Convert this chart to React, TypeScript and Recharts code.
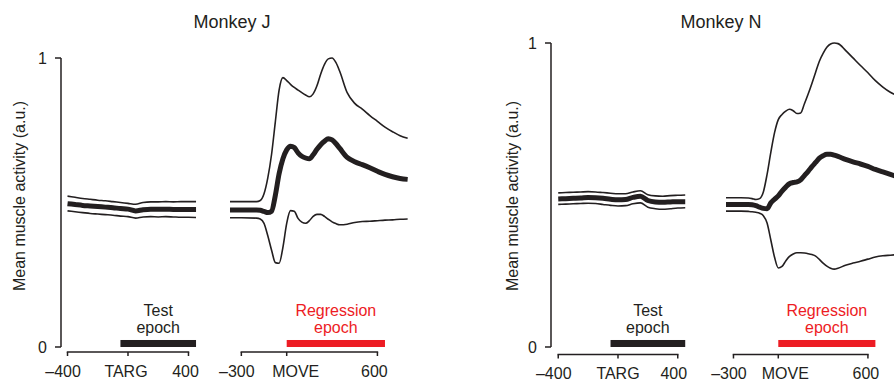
import { LineChart, Line, XAxis, YAxis, ReferenceLine } from 'recharts';

const INK = '#231f20';
const RED = '#ed1c24';
const FONT = '"Liberation Sans", Arial, Helvetica, sans-serif';

// Monkey J, aligned on target onset
const jTargTime = [-400, -350, -300, -250, -200, -150, -100, -50, 0, 50, 100, 150, 200, 250, 300, 350, 400, 450];
const jTargUpper = [0.522, 0.518, 0.514, 0.511, 0.508, 0.506, 0.503, 0.5, 0.497, 0.494, 0.5, 0.502, 0.502, 0.503, 0.502, 0.503, 0.503, 0.503];
const jTargMean = [0.496, 0.493, 0.49, 0.488, 0.486, 0.484, 0.482, 0.479, 0.477, 0.471, 0.475, 0.477, 0.477, 0.477, 0.476, 0.476, 0.476, 0.476];
const jTargLower = [0.471, 0.468, 0.465, 0.462, 0.46, 0.458, 0.456, 0.453, 0.451, 0.446, 0.45, 0.451, 0.45, 0.451, 0.45, 0.449, 0.449, 0.448];

// Monkey J, aligned on movement onset
const jMoveTime = [-375, -300, -200, -175, -150, -125, -100, -75, -50, -25, 0, 25, 50, 75, 100, 125, 150, 175, 200, 225, 250, 275, 300, 325, 350, 400, 450, 500, 550, 600, 650, 700, 750, 800];
const jMoveUpper = [0.503, 0.503, 0.503, 0.507, 0.53, 0.585, 0.667, 0.78, 0.89, 0.932, 0.922, 0.909, 0.898, 0.889, 0.88, 0.872, 0.866, 0.876, 0.904, 0.945, 0.978, 0.997, 1.0, 0.985, 0.955, 0.88, 0.843, 0.823, 0.801, 0.781, 0.761, 0.745, 0.731, 0.722];
const jMoveMean = [0.474, 0.474, 0.474, 0.473, 0.469, 0.465, 0.47, 0.525, 0.6, 0.651, 0.682, 0.695, 0.69, 0.672, 0.66, 0.654, 0.651, 0.665, 0.684, 0.7, 0.712, 0.721, 0.717, 0.704, 0.688, 0.656, 0.641, 0.631, 0.62, 0.608, 0.597, 0.589, 0.583, 0.58];
const jMoveLower = [0.447, 0.447, 0.446, 0.443, 0.428, 0.385, 0.335, 0.292, 0.29, 0.345, 0.428, 0.472, 0.47, 0.445, 0.432, 0.428, 0.437, 0.452, 0.459, 0.459, 0.452, 0.442, 0.433, 0.427, 0.423, 0.425, 0.431, 0.434, 0.435, 0.437, 0.439, 0.44, 0.442, 0.443];

// Monkey N, aligned on target onset
const nTargTime = [-400, -350, -300, -250, -200, -150, -100, -50, 0, 50, 100, 150, 200, 250, 300, 350, 400, 450];
const nTargUpper = [0.507, 0.508, 0.509, 0.51, 0.511, 0.51, 0.508, 0.506, 0.504, 0.504, 0.51, 0.514, 0.501, 0.497, 0.496, 0.498, 0.499, 0.5];
const nTargMean = [0.487, 0.488, 0.489, 0.49, 0.492, 0.491, 0.489, 0.486, 0.484, 0.485, 0.492, 0.496, 0.482, 0.477, 0.476, 0.477, 0.478, 0.478];
const nTargLower = [0.469, 0.47, 0.471, 0.472, 0.473, 0.472, 0.469, 0.466, 0.464, 0.465, 0.471, 0.474, 0.46, 0.455, 0.453, 0.455, 0.457, 0.458];

// Monkey N, aligned on movement onset
const nMoveTime = [-350, -300, -250, -200, -175, -150, -125, -100, -75, -50, -25, 0, 25, 50, 75, 100, 125, 150, 175, 200, 225, 250, 275, 300, 325, 350, 375, 400, 450, 500, 550, 600, 650, 700, 750, 800];
const nMoveUpper = [0.491, 0.491, 0.491, 0.49, 0.488, 0.485, 0.488, 0.51, 0.568, 0.64, 0.705, 0.748, 0.765, 0.776, 0.782, 0.777, 0.768, 0.77, 0.8, 0.832, 0.867, 0.904, 0.94, 0.966, 0.986, 0.997, 1.0, 0.998, 0.976, 0.951, 0.926, 0.902, 0.876, 0.855, 0.838, 0.826];
const nMoveMean = [0.469, 0.469, 0.469, 0.469, 0.468, 0.465, 0.46, 0.456, 0.455, 0.474, 0.486, 0.497, 0.513, 0.526, 0.537, 0.541, 0.543, 0.55, 0.564, 0.578, 0.593, 0.607, 0.621, 0.629, 0.634, 0.634, 0.631, 0.627, 0.617, 0.609, 0.602, 0.594, 0.584, 0.576, 0.568, 0.56];
const nMoveLower = [0.447, 0.447, 0.447, 0.446, 0.445, 0.443, 0.44, 0.432, 0.408, 0.352, 0.295, 0.26, 0.265, 0.283, 0.298, 0.306, 0.31, 0.31, 0.309, 0.307, 0.304, 0.299, 0.288, 0.276, 0.266, 0.259, 0.256, 0.259, 0.269, 0.276, 0.282, 0.289, 0.296, 0.3, 0.302, 0.304];

const targTicks = [-400, 0, 400];
const targTickLabels = ['\u2013400', 'TARG', '400'];
const moveTicks = [-300, 0, 600];
const moveTickLabels = ['\u2013300', 'MOVE', '600'];
const yTicks = [0, 1];

const testEpoch = [-50, 450];
const testEpochLabel = ['Test', 'epoch'];
const regressionEpoch = [0, 650];
const regressionEpochLabel = ['Regression', 'epoch'];

const SIDE = 24;
const H = 384;

interface PanelProps {
  time: number[];
  upper: number[];
  mean: number[];
  lower: number[];
  ticks: number[];
  tickLabels: string[];
  labelShift: number[];
  epoch: number[];
  epochLabel: string[];
  epochColor: string;
  zeroX: number;
  pxPerMs: number;
  top: number;
  bottom: number;
  axisGap: number;
  axisX?: number;
  yWidth?: number;
  yLabelX?: number;
}

function Panel(p: PanelProps) {
  const rows = p.time.map((t, i) => ({ t, upper: p.upper[i], mean: p.mean[i], lower: p.lower[i] }));
  const t0 = p.time[0];
  const t1 = p.time[p.time.length - 1];
  const dataLeft = p.zeroX + t0 * p.pxPerMs;
  const hasY = p.axisX !== undefined;
  const gap = hasY ? dataLeft - (p.axisX as number) : 0;
  const leftPart = hasY ? (p.yWidth as number) : SIDE;
  const chartLeft = dataLeft - gap - leftPart;
  const width = leftPart + gap + (t1 - t0) * p.pxPerMs + SIDE;
  const ag = p.axisGap;

  const renderTick = (props: any) => {
    const { x, y, payload } = props;
    const i = p.ticks.indexOf(payload.value);
    const label = p.tickLabels[i];
    const neg = label.startsWith('\u2013');
    return (
      <g>
        <line x1={x} x2={x} y1={y + ag} y2={y + ag + 4} stroke={INK} strokeWidth={1.5} />
        <text
          x={neg ? x + 13.3 : x + p.labelShift[i]}
          y={y + ag + 25}
          textAnchor={neg ? 'end' : 'middle'}
          fontSize={16}
          fontFamily={FONT}
          fill={INK}
        >
          {label}
        </text>
      </g>
    );
  };

  const axisShape = (s: any) => (
    <line x1={s.x1 - 0.75} x2={s.x2 + 0.75} y1={s.y1 + ag} y2={s.y1 + ag} stroke={INK} strokeWidth={1.5} />
  );

  const epochShape = (s: any) => (
    <g>
      <rect x={s.x1} y={s.y1 - 7} width={s.x2 - s.x1} height={7} fill={p.epochColor} />
      <text x={(s.x1 + s.x2) / 2} textAnchor="middle" fontSize={16} fontFamily={FONT} fill={p.epochColor}>
        <tspan x={(s.x1 + s.x2) / 2} y={s.y1 - 31.3}>{p.epochLabel[0]}</tspan>
        <tspan x={(s.x1 + s.x2) / 2} y={s.y1 - 13.7}>{p.epochLabel[1]}</tspan>
      </text>
    </g>
  );

  return (
    <div style={{ position: 'absolute', left: chartLeft, top: 0 }}>
      <LineChart
        width={width}
        height={H}
        data={rows}
        margin={{ top: p.top, right: SIDE, bottom: 0, left: hasY ? 0 : SIDE }}
      >
        <XAxis
          dataKey="t"
          type="number"
          domain={[t0, t1]}
          ticks={p.ticks}
          interval={0}
          axisLine={false}
          tickLine={false}
          tickSize={0}
          tickMargin={0}
          height={H - p.bottom}
          padding={{ left: gap, right: 0 }}
          tick={renderTick}
        />
        <YAxis
          type="number"
          domain={[0, 1]}
          ticks={yTicks}
          hide={!hasY}
          width={hasY ? p.yWidth : 0}
          axisLine={{ stroke: INK, strokeWidth: 1.5 }}
          tickLine={{ stroke: INK, strokeWidth: 1.5 }}
          tickSize={6}
          tickMargin={8}
          tick={{ fill: INK, fontSize: 16, fontFamily: FONT }}
          label={
            hasY
              ? {
                  value: 'Mean muscle activity (a.u.)',
                  angle: -90,
                  position: 'insideLeft',
                  offset: p.yLabelX,
                  dy: 196 - (p.top + p.bottom) / 2,
                  fill: INK,
                  fontSize: 16,
                  fontFamily: FONT,
                  style: { textAnchor: 'middle' },
                }
              : undefined
          }
        />
        <ReferenceLine
          segment={[{ x: p.ticks[0], y: 0 }, { x: p.ticks[p.ticks.length - 1], y: 0 }]}
          ifOverflow="visible"
          shape={axisShape}
        />
        <ReferenceLine
          segment={[{ x: p.epoch[0], y: 0 }, { x: p.epoch[1], y: 0 }]}
          ifOverflow="visible"
          shape={epochShape}
        />
        <Line type="monotone" dataKey="upper" stroke={INK} strokeWidth={1.6} dot={false} activeDot={false} isAnimationActive={false} />
        <Line type="monotone" dataKey="lower" stroke={INK} strokeWidth={1.6} dot={false} activeDot={false} isAnimationActive={false} />
        <Line type="monotone" dataKey="mean" stroke={INK} strokeWidth={5} dot={false} activeDot={false} isAnimationActive={false} />
      </LineChart>
    </div>
  );
}

const titleStyle = (cx: number): React.CSSProperties => ({
  position: 'absolute',
  left: cx - 100,
  width: 200,
  top: 13,
  textAlign: 'center',
  fontFamily: FONT,
  fontSize: 18,
  lineHeight: 1,
  color: INK,
});

export default function App() {
  const jScale = 0.1512;
  const nScale = 0.1494;
  return (
    <div style={{ position: 'fixed', left: 0, top: 0, width: 894, height: 384, overflow: 'hidden', background: '#fff' }}>
      <div style={titleStyle(232)}>Monkey J</div>
      <div style={titleStyle(721)}>Monkey N</div>
      <Panel
        time={jTargTime} upper={jTargUpper} mean={jTargMean} lower={jTargLower}
        ticks={targTicks} tickLabels={targTickLabels} labelShift={[0, -2, -3]}
        epoch={testEpoch} epochLabel={testEpochLabel} epochColor={INK}
        zeroX={128} pxPerMs={jScale} top={58} bottom={347} axisGap={5}
        axisX={61} yWidth={61} yLabelX={19.7}
      />
      <Panel
        time={jMoveTime} upper={jMoveUpper} mean={jMoveMean} lower={jMoveLower}
        ticks={moveTicks} tickLabels={moveTickLabels} labelShift={[0, 9, -3]}
        epoch={regressionEpoch} epochLabel={regressionEpochLabel} epochColor={RED}
        zeroX={287} pxPerMs={jScale} top={58} bottom={347} axisGap={5}
      />
      <Panel
        time={nTargTime} upper={nTargUpper} mean={nTargMean} lower={nTargLower}
        ticks={targTicks} tickLabels={targTickLabels} labelShift={[0, 0, -4]}
        epoch={testEpoch} epochLabel={testEpochLabel} epochColor={INK}
        zeroX={618} pxPerMs={nScale} top={43} bottom={347} axisGap={7.5}
        axisX={551} yWidth={51} yLabelX={12.5}
      />
      <Panel
        time={nMoveTime} upper={nMoveUpper} mean={nMoveMean} lower={nMoveLower}
        ticks={moveTicks} tickLabels={moveTickLabels} labelShift={[0, 7, -2]}
        epoch={regressionEpoch} epochLabel={regressionEpochLabel} epochColor={RED}
        zeroX={778} pxPerMs={nScale} top={43} bottom={347} axisGap={7.5}
      />
    </div>
  );
}
